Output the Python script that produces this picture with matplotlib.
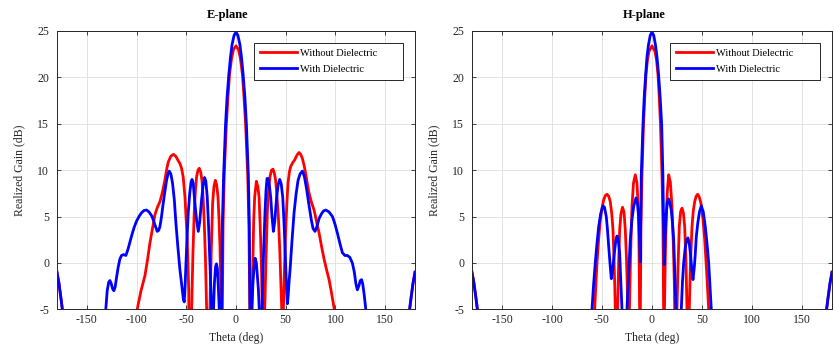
import numpy as np
import matplotlib
matplotlib.use("Agg")
import matplotlib.pyplot as plt

plt.rcParams['font.family'] = ['Liberation Serif', 'DejaVu Serif']
plt.rcParams['axes.unicode_minus'] = False

# E-plane, without dielectric (theta deg, gain dB); deep nulls fall off the plot
e_red_theta = [-180, -178, -176, -174, -172, -170, -102, -100.5, -99.3, -95.5, -91.6, -89, -86.6, -84, -81.5,
               -79, -76.5, -74, -71.5, -69.5, -68, -65.5, -63, -60.5, -58, -56.3, -54.7, -53, -51.3, -49,
               -47.5, -46.5, -45.2, -44.6, -43.3, -42, -40.8, -39.6, -38.2, -36.9, -35.5, -34.2, -33, -31.9,
               -30.7, -29.5, -29, -28.3, -27, -26.2, -24.8, -23.5, -22.2, -20.8, -19.4, -18.1, -17.1, -16.1,
               -15.3, -14.8, -14.2, -13.7, -13.0, -11.8, -9.7, -8, -6.5, -4.5, -2.5, 0, 2.5, 4.5, 6.5, 8,
               9.7, 11.8, 13.0, 13.9, 14.4, 15.4, 15.9, 16.8, 17.8, 18.8, 20.5, 22, 23.2, 24.5, 25.5, 26.5,
               27, 27.6, 28.3, 28.9, 30.2, 31.5, 32.8, 34.2, 35.7, 37.2, 38.5, 39.9, 41.2, 42.6, 44, 45, 46,
               46.3, 46.8, 47.3, 47.7, 48.8, 50, 51.2, 52.3, 53.7, 55, 57, 59, 61.2, 63.4, 65, 66.8, 68.5,
               70.1, 71.8, 73.5, 76, 78.5, 81, 83.6, 86, 88.6, 91, 93.6, 96, 98.7, 100, 101.5, 172, 174, 176,
               178, 180]
e_red_gain = [-1.0, -2.2, -3.8, -5.5, -9, -25, -25, -8, -5, -3.0, -1.4, 0.3, 2.1, 3.7, 5.2,
              6.0, 6.6, 7.6, 8.9, 10.2, 10.9, 11.5, 11.7, 11.5, 11.0, 10.7, 10.2, 9.2, 7.1, 2.5,
              -3, -25, -8, -5, 1, 5.4, 7.8, 9.3, 10.0, 10.2, 9.8, 8.9, 7, 4.3,
              0.5, -5, -8, -25, -8, -5, 1.5, 6.4, 8.2, 8.9, 8.4, 7.1, 4.8, 1.8,
              -2, -5, -25, -5, 4.1, 9.5, 14.9, 18.0, 20.3, 22.0, 23.0, 23.4, 23.0, 22.0, 20.3, 18.0,
              14.9, 9.5, 4.1, -5, -25, -8, -5, -1, 4.5, 7.1, 8.8, 8.2, 7.1, 3.5, 0, -5,
              -8, -25, -8, -5, 0.5, 5.4, 7.8, 9.3, 10.0, 10.1, 9.7, 8.9, 7.2, 5, 1.5, -1.8, -5,
              -8, -25, -8, -5, -0.5, 3.6, 6.5, 8.6, 9.8, 10.4, 10.8, 11.1, 11.6, 11.9, 11.7, 11.25, 10.5,
              9.6, 8.5, 7.5, 6.5, 5.7, 4.5, 3.2, 1.8, 0.4, -0.7, -1.8, -3.2, -4.9, -6, -25, -25, -5.5, -3.8,
              -2.2, -1.0]

# E-plane, with dielectric
e_blue_theta = [-180, -178, -176, -174, -172, -170, -133, -131.5, -130.9, -129.5, -128, -126.8, -125.5, -124,
                -122.8, -121.5, -120, -118.5, -116.8, -115.1, -113, -110.7, -108.5, -105, -102.5, -100, -97.5,
                -95, -92.5, -89.9, -87.5, -84.9, -83, -81.5, -79.2, -77.8, -76.5, -75, -73.2, -71.5, -69.8,
                -68.3, -67.1, -65.5, -63.8, -62, -60.4, -58.5, -56.4, -54.3, -52.8, -52.0, -51.2, -50.3,
                -49.2, -48, -46.5, -45.2, -44.2, -43, -41.3, -39.5, -37.9, -36.5, -34.6, -33, -31.6, -30.3,
                -28.9, -27.5, -26.2, -25.2, -24.5, -24.0, -23.5, -23.0, -22.6, -21.6, -20.5, -19.6, -18.7,
                -17.8, -16.8, -16.3, -15.5, -14.8, -14.4, -13.7, -12.4, -10.5, -9, -7.2, -5.5, -4, -2, 0, 2,
                4, 5.5, 7.2, 9, 10.5, 12.4, 13.4, 14.1, 14.5, 15.1, 15.6, 16.0, 17.0, 18.1, 19.3, 20.5, 21.5,
                22.5, 23.4, 24, 24.8, 25.6, 26.2, 27.2, 28.2, 29.2, 30.2, 31.2, 32.2, 33.5, 34.9, 36.2, 37.6,
                39.0, 40.9, 42.5, 44.0, 45.5, 47, 48, 49, 50, 51, 51.7, 52.5, 53.4, 54.4, 56.4, 58.4, 60.4,
                62.4, 64.5, 66.8, 68.8, 71.1, 73.3, 75.8, 77.5, 79.5, 81.3, 83.6, 86, 88, 90.3, 93.5, 97, 99.5,
                102, 104.5, 107, 109.5, 112, 114.5, 117, 119, 120.5, 122, 123.5, 125, 126.3, 127.5, 129,
                130.5, 131, 132.5, 172, 174, 176, 178, 180]
e_blue_gain = [-1.0, -2.2, -3.8, -5.5, -9, -25, -25, -7, -5, -3, -2.1, -1.9, -2.2, -2.8,
               -3.0, -2.6, -1.5, -0.5, 0.4, 0.8, 0.9, 0.8, 1.5, 2.9, 3.8, 4.5, 5.0,
               5.4, 5.65, 5.7, 5.5, 5.1, 4.6, 4.1, 3.4, 3.5, 3.9, 4.9, 6.4, 7.7, 8.9,
               9.6, 9.9, 9.6, 8.6, 6.8, 4.3, 1.8, -0.7, -2.6, -4.0, -4.2, -2.5, 0,
               2.8, 5.4, 7.5, 8.7, 9.0, 8.6, 6.4, 4.5, 3.4, 4.4, 6.8, 8.4, 9.2, 8.8,
               7.1, 3.8, 0, -3, -5, -8, -25, -8, -5, -2, -0.4, -0.1, -0.6,
               -2.5, -5, -8, -25, -8, -5, 4.1, 9.5, 14.9, 17.8, 20.3, 22.2, 23.5, 24.5, 24.9, 24.5,
               23.5, 22.2, 20.3, 17.8, 14.9, 9.5, 4.1, -5, -8, -25, -8, -5, -2.3, -0.6, 0.5, 0, -1.4,
               -2.8, -5, -8, -25, -8, -5, -0.5, 2.5, 5.5, 7.8, 9.1, 9.1, 8.4, 7.1, 5.0, 3.4,
               4.5, 7.1, 8.5, 9.0, 8.5, 7.1, 5.0, 2.5, -0.5, -3.2, -4.4, -3.5, -2.0, -0.7, 2.5, 5.4, 7.4,
               8.9, 9.6, 9.9, 9.3, 7.9, 6.3, 4.6, 3.7, 3.4, 3.9, 4.8, 5.3, 5.6, 5.7, 5.5, 5.0, 4.2,
               3.2, 2.1, 1.1, 0.8, 0.8, 0.6, 0, -1.0, -2.2, -2.9, -2.5, -1.9, -1.8, -2.3, -3.5,
               -5, -7, -25, -25, -5.5, -3.8, -2.2, -1.0]

# H-plane, without dielectric
h_red_theta = [-180, -178, -176, -174, -172, -170, -59, -57.8, -57.3, -56.2, -55, -53.3, -51.7, -50, -48.3,
               -46.7, -45, -43.3, -41.7, -40.2, -39, -38, -37.2, -36.7, -36.3, -35.8, -35.2, -34.3, -33.3,
               -32.3, -31, -29.5, -28, -26.7, -25.5, -24.7, -24.3, -23.9, -23.3, -22.9, -22.5, -21.5, -20,
               -18.5, -16.7, -15, -14, -13.3, -12.8, -12.4, -12.2, -12.0, -11.8, -11.6, -11.0, -10.0, -8.5,
               -7.2, -6.0, -4.5, -3, 0, 3, 4.5, 6.0, 7.2, 8.5, 10.0, 11.0, 11.6, 11.8, 12.0, 12.2, 12.5,
               13.2, 14, 15.2, 16.7, 18.4, 20, 21.5, 22.3, 22.7, 23.1, 23.6, 24.2, 25, 26, 27.3, 28.6, 30,
               31.4, 32.7, 34, 35, 35.5, 36, 36.6, 37.3, 38.5, 40, 41.3, 42.7, 44.2, 45.7, 47.3, 49, 51,
               52.7, 54.7, 56.7, 57.2, 58.5, 172, 174, 176, 178, 180]
h_red_gain = [-1.0, -2.2, -3.8, -5.5, -9, -25, -25, -7, -5, -2.5, 0, 2.6, 4.6, 5.9, 6.8,
              7.25, 7.4, 7.2, 6.6, 5.3, 3.6, 0.5, -2.5, -5, -8, -25, -8, -5, 0,
              3.6, 5.3, 6.0, 5.5, 3.6, 0.5, -2.5, -5, -8, -25, -8, -5, 0.5, 6.1,
              8.6, 9.5, 8.6, 6.5, 4.2, 0, -5, -8, -25, -8, -5, 4.1, 9.5, 14.9,
              18.0, 20.3, 21.9, 22.8, 23.4, 22.8, 21.9, 20.3, 18.0, 14.9, 9.5, 4.1, -5, -8, -25, -8, -5,
              0, 3.6, 7.5, 9.5, 8.7, 6.1, 1.5, -2, -5, -8, -25, -8, -5, -0.5, 3.9, 5.5, 5.9,
              5.4, 3.9, 0, -5, -8, -25, -8, -5, 0, 3.9, 5.6, 6.6, 7.2, 7.4, 7.1, 6.4, 4.7,
              2.5, -1, -5, -7, -25, -25, -5.5, -3.8, -2.2, -1.0]

# H-plane, with dielectric
h_blue_theta = [-180, -178, -176, -174, -172, -170, -61.5, -60.5, -60, -58.5, -56.7, -55, -53.3, -51.3, -49,
                -47.5, -45.7, -44.5, -43.3, -42, -40.7, -39.2, -37.7, -36.3, -35, -33.7, -32.3, -31.2, -30,
                -29.5, -28, -25.8, -25, -23.5, -21.7, -20, -18.3, -16, -14.5, -13.3, -12.4, -11.7, -11.3,
                -10.7, -9, -7.8, -6.3, -5, -3.5, -1.8, 0, 1.8, 3.5, 5, 6.6, 8.2, 9.7, 10.9, 11.6, 12.2, 12.9,
                14, 15.3, 16.5, 17.8, 19.3, 20.5, 21.7, 22.8, 24, 24.5, 27, 28.8, 29.3, 30.5, 31.7, 33.2,
                34.7, 36, 37.3, 38.7, 40, 41, 42.3, 43.3, 44.3, 45.8, 47.5, 49.3, 51.3, 53.3, 55, 56.7, 58,
                59.3, 59.8, 61, 172, 174, 176, 178, 180]
h_blue_gain = [-1.0, -2.2, -3.8, -5.5, -9, -25, -25, -7, -5, -2.5, 0, 2.1, 3.9, 5.3, 6.15,
               6.0, 5.0, 3.6, 1.8, 0, -1.7, -0.6, 1.0, 2.3, 2.9, 2.5, 1.0, -2, -5,
               -8, -25, -8, -5, -1.5, 2.5, 4.7, 6.1, 7.0, 6.4, 5.0, 2.5, 0.1, 4.1,
               9.5, 14.9, 17.8, 20.3, 22.2, 23.5, 24.5, 24.9, 24.5, 23.5, 22.2, 20.3, 17.8, 14.9, 9.5, 4.1, -0.2, 2.5,
               5, 6.5, 6.9, 6.5, 5.7, 4.3, 2.5, -1, -5, -8, -25, -8, -5, -2, 0, 1.6,
               2.5, 2.7, 2.1, 0.7, -0.9, -1.8, -0.5, 1.0, 2.8, 4.3, 5.5, 6.15, 5.5, 3.9, 2.1, 0, -2.5,
               -5, -7, -25, -25, -5.5, -3.8, -2.2, -1.0]

panels = [("E-plane", e_red_theta, e_red_gain, e_blue_theta, e_blue_gain),
          ("H-plane", h_red_theta, h_red_gain, h_blue_theta, h_blue_gain)]

fig = plt.figure(figsize=(8.34, 3.51), dpi=100)
positions = [[0.0683, 0.1188, 0.4293, 0.7929], [0.5659, 0.1188, 0.4317, 0.7929]]

for pos, (title, rt, rg, bt, bg) in zip(positions, panels):
    ax = fig.add_axes(pos)
    ax.plot(rt, rg, color='red', lw=2, label='Without Dielectric')
    ax.plot(bt, bg, color='blue', lw=2, label='With Dielectric')
    ax.set_xlim(-180, 180)
    ax.set_ylim(-5, 25)
    ax.set_xticks([-150, -100, -50, 0, 50, 100, 150])
    ax.set_yticks([-5, 0, 5, 10, 15, 20, 25])
    ax.grid(True, color='#dedede', lw=0.6)
    ax.set_axisbelow(True)
    ax.tick_params(direction='in', top=True, right=True, length=3, width=0.6,
                   labelsize=8.5, colors='#262626')
    ax.tick_params(axis='y', pad=5.5)
    for s in ax.spines.values():
        s.set_color('#262626')
        s.set_linewidth(0.7)
    ax.set_title(title, fontsize=9, fontweight='bold', pad=9, x=0.478)
    ax.set_xlabel('Theta (deg)', fontsize=8.5, color='#262626')
    ax.set_ylabel('Realized Gain (dB)', fontsize=8.5, color='#262626', labelpad=9)
    # matlab-like legend box: stretched wider than its text
    leg = ax.legend(loc='upper left', bbox_to_anchor=(0.55, 0.957, 0.416, 0.0), mode='expand',
                    fontsize=7.5, handlelength=3.6, handletextpad=0.3, fancybox=False,
                    framealpha=1, edgecolor='#262626', borderaxespad=0.0,
                    borderpad=0.55, labelspacing=0.65)
    leg.get_frame().set_linewidth(0.7)

fig.savefig('out.png', dpi=100)
